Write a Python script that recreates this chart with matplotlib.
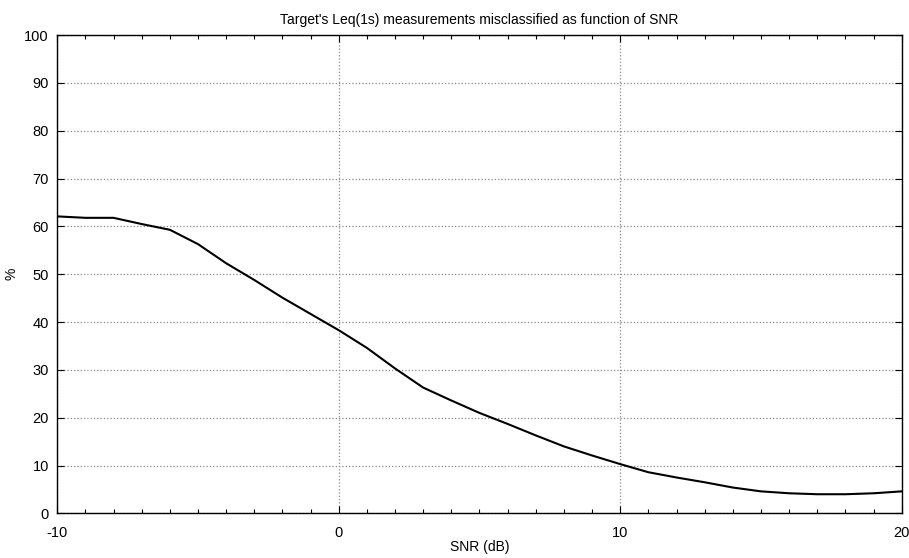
"""Misclassified Leq(1s) measurements vs SNR."""
import matplotlib
matplotlib.use('Agg')
import matplotlib.pyplot as plt
import numpy as np
from matplotlib.ticker import MultipleLocator

snr_db = [-10, -9, -8, -7, -6, -5, -4, -3, -2, -1, 0, 1, 2, 3, 4, 5, 6, 7, 8, 9,
          10, 11, 12, 13, 14, 15, 16, 17, 18, 19, 20]
misclassified_pct = [62.1, 61.8, 61.8, 60.5, 59.3, 56.3, 52.3, 48.8, 45.1, 41.7,
                     38.3, 34.6, 30.3, 26.3, 23.6, 21.0, 18.7, 16.3, 14.0, 12.1,
                     10.3, 8.6, 7.5, 6.5, 5.4, 4.6, 4.2, 4.0, 4.0, 4.2, 4.6]


def main():
    plt.rcParams['font.family'] = ['Liberation Sans', 'DejaVu Sans']
    plt.rcParams['axes.unicode_minus'] = False
    fig = plt.figure(figsize=(9.09, 5.58), dpi=100)
    ax = fig.add_axes([0.063, 0.080, 0.929, 0.857])

    ax.plot(snr_db, misclassified_pct, color='black', lw=1.5)

    ax.set_xlim(-10, 20)
    ax.set_ylim(0, 100)
    ax.xaxis.set_major_locator(MultipleLocator(10))
    ax.xaxis.set_minor_locator(MultipleLocator(1))
    ax.yaxis.set_major_locator(MultipleLocator(10))
    ax.tick_params(which='both', direction='in', top=True, right=True,
                   labelsize=10.5, width=0.8)
    ax.tick_params(which='major', length=5)
    ax.tick_params(which='minor', length=3)
    ax.tick_params(axis='x', which='major', pad=9)
    ax.tick_params(axis='y', which='major', pad=6)
    ax.grid(True, which='major', ls=':', color='#888888', lw=0.9)
    for s in ax.spines.values():
        s.set_linewidth(1.0)

    ax.set_xlabel('SNR (dB)', fontsize=10, labelpad=0)
    ax.set_ylabel('%', fontsize=10, labelpad=4)
    ax.set_title("Target's Leq(1s) measurements misclassified as function of SNR",
                 fontsize=10, pad=8)

    fig.savefig('out.png', dpi=100)


if __name__ == '__main__':
    main()
